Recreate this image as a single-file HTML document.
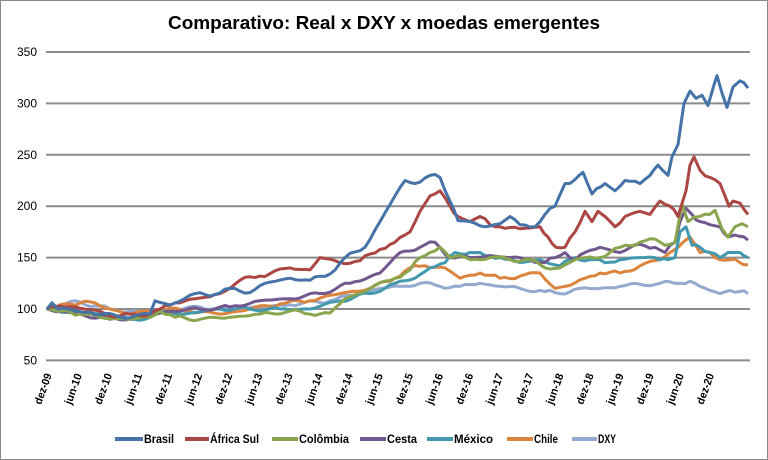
<!DOCTYPE html>
<html><head><meta charset="utf-8"><style>
html,body{margin:0;padding:0;background:#fff;}
svg{display:block;font-family:"Liberation Sans",sans-serif;}
</style></head><body>
<svg id="c" width="768" height="460" xmlns="http://www.w3.org/2000/svg">
<rect x="0.5" y="0.5" width="767" height="459" fill="#fff" stroke="#888"/>
<text x="384" y="29" text-anchor="middle" font-size="18" font-weight="bold" fill="#000" textLength="432" lengthAdjust="spacingAndGlyphs">Comparativo: Real x DXY x moedas emergentes</text>
<g id="grid"></g><g id="series"></g><g id="xl"></g><g id="leg"></g>
</svg>
<script>
var NS="http://www.w3.org/2000/svg";
function el(t,a,p,txt){var e=document.createElementNS(NS,t);for(var k in a)e.setAttribute(k,a[k]);if(txt)e.textContent=txt;p.appendChild(e);return e;}
var g=document.getElementById('grid');
function Y(v){return 309-(v-100)*1.028;}
for(var v=50;v<=350;v+=50){var y=Y(v);el('line',{x1:46,x2:750,y1:y,y2:y,stroke:'#8c8c8c','stroke-width':2},g);
el('text',{x:37,y:y+4,'text-anchor':'end','font-size':12,fill:'#000'},g,String(v));}
var xl=document.getElementById('xl');
var labs=[];for(var yr=9;yr<=20;yr++){labs.push('dez-'+(yr<10?'0'+yr:yr));if(yr<20)labs.push('jun-'+(yr+1<10?'0'+(yr+1):yr+1));}
labs.forEach(function(l,i){var x=48+i*30.1;el('text',{x:0,y:0,'text-anchor':'end','font-size':11,'font-weight':'bold',fill:'#000',textLength:32,lengthAdjust:'spacingAndGlyphs',transform:'translate('+(x+4)+',375) rotate(-70)'},xl,l);});
var S=[
['Brasil','#4572a7',"47:100,52:106,58:100,90:97,120:92,150:95,155:108,170:104,195:115,215:114,230:120,250:116,265:125,290:130,310:128,330:134,345:150,365:160,380:185,395:210,405:225,415:222,430:230,440:228,450:205,458:186,470:185,485:180,500:183,510:190,520:182,535:180,545:192,555:200,565:222,575:226,583:233,592:212,605:222,615:215,625:225,640:222,650:230,658:240,668:230,672:248,678:260,684:300,690:312,696:305,702:308,708:298,714:318,717:327,722:310,727:296,733:316,740:322,744:320,748:315"],
['África Sul','#aa4643',"47:100,60:103,100:98,115:92,130:95,150:95,160:100,175:106,195:110,210:112,220:115,240:128,260:132,290:140,310:138,320:150,340:145,360:147,380:158,395:165,410:175,420:195,430:210,440:215,450:200,458:190,470:185,480:190,490:182,500:180,520:178,540:180,548:170,556:160,565:160,575:175,585:195,592:185,598:195,605:190,615:180,625:190,640:195,650:192,660:205,670:200,678:190,686:215,690:240,694:248,700:235,710:228,720:222,725:210,729:200,733:205,740:203,748:192"],
['Colômbia','#89a54e',"47:100,80:95,100:92,130:90,150:92,160:98,175:92,200:90,230:92,260:95,290:98,310:95,330:96,345:110,370:120,395:130,410:138,420:150,430:155,440:160,450:150,460:152,470:148,490:150,510:148,530:148,545:140,560:140,575:148,585:150,600:150,620:160,640:165,655:168,665:162,675:165,682:202,688:185,700:190,710:192,715:196,722:178,728:170,735:180,742:183,748:180"],
['Cesta','#71588f',"47:100,80:95,110:90,140:92,170:98,200:100,230:102,260:108,290:110,320:115,350:125,380:135,400:155,420:160,435:165,450:150,470:150,490:152,510:150,530:148,545:145,555:150,565:155,575:148,585:155,600:160,620:155,640:163,655:160,665:155,675:165,680:185,686:198,692:192,700:185,710:182,720:180,728:170,735:172,748:167"],
['México','#4198af',"47:100,70:97,100:95,130:90,150:92,165:98,185:95,220:100,250:100,280:100,310:100,340:108,370:115,395:125,415:130,430:140,445:145,455:155,470:155,485:152,500:150,520:145,540:148,560:142,575:150,590:148,605:145,620:148,640:150,655:150,668:148,675:150,680:175,686:180,692:162,700:160,710:155,720:150,728:155,740:155,748:150"],
['Chile','#db843d',"47:100,70:105,90:107,110:100,130:95,160:100,190:98,220:95,250:100,280:105,310:108,340:115,370:120,395:130,410:140,425:142,445:140,460:130,480:135,500:130,520:132,540:135,555:120,570:123,585:130,600:135,620:135,640:142,660:148,670:155,675:158,683:165,690:170,700:155,710:155,720:148,730:148,740:145,748:143"],
['DXY','#93a9cf',"47:100,75:108,95:103,110:100,140:97,170:98,200:102,230:100,260:102,290:104,330:108,360:115,380:120,400:122,420:125,440:122,460:122,480:125,500:122,520:120,545:117,560:115,580:120,600:120,620:122,640:124,660:125,680:125,690:127,700:122,710:118,720:115,730:118,740:117,748:115"]];
var sg=document.getElementById('series');
S.forEach(function(s,si){var kp=s[2].split(',').map(function(p){var a=p.split(':');return [+a[0],+a[1]];});
var pts=[];
for(var i=0;i<kp.length-1;i++){var a=kp[i],b=kp[i+1];var n=Math.max(1,Math.round((b[0]-a[0])/5));
for(var j=0;j<n;j++){var t=j/n;var x=a[0]+(b[0]-a[0])*t;var v=a[1]+(b[1]-a[1])*t;if(j>0)v+=2*Math.sin(x*1.7+si*3)*Math.cos(x*0.6+si);pts.push(x.toFixed(1)+','+Y(v).toFixed(1));}}
var l=kp[kp.length-1];pts.push(l[0]+','+Y(l[1]).toFixed(1));
s.pts=pts.join(' ');});
for(var i=S.length-1;i>=0;i--)el('polyline',{points:S[i].pts,fill:'none',stroke:S[i][1],'stroke-width':3,'stroke-linejoin':'round'},sg);
var lg=document.getElementById('leg');
var L=[[115,143,30],[185,209,49],[272,298,50],[360,386,30],[427,453,39],[507,533,24],[572,597,18]];
S.forEach(function(s,i){el('line',{x1:L[i][0],x2:L[i][1],y1:439,y2:439,stroke:s[1],'stroke-width':4},lg);
el('text',{x:L[i][1]+1,y:443,'font-size':12,'font-weight':'bold',fill:'#000',textLength:L[i][2],lengthAdjust:'spacingAndGlyphs'},lg,s[0]);});
</script>
</body></html>
